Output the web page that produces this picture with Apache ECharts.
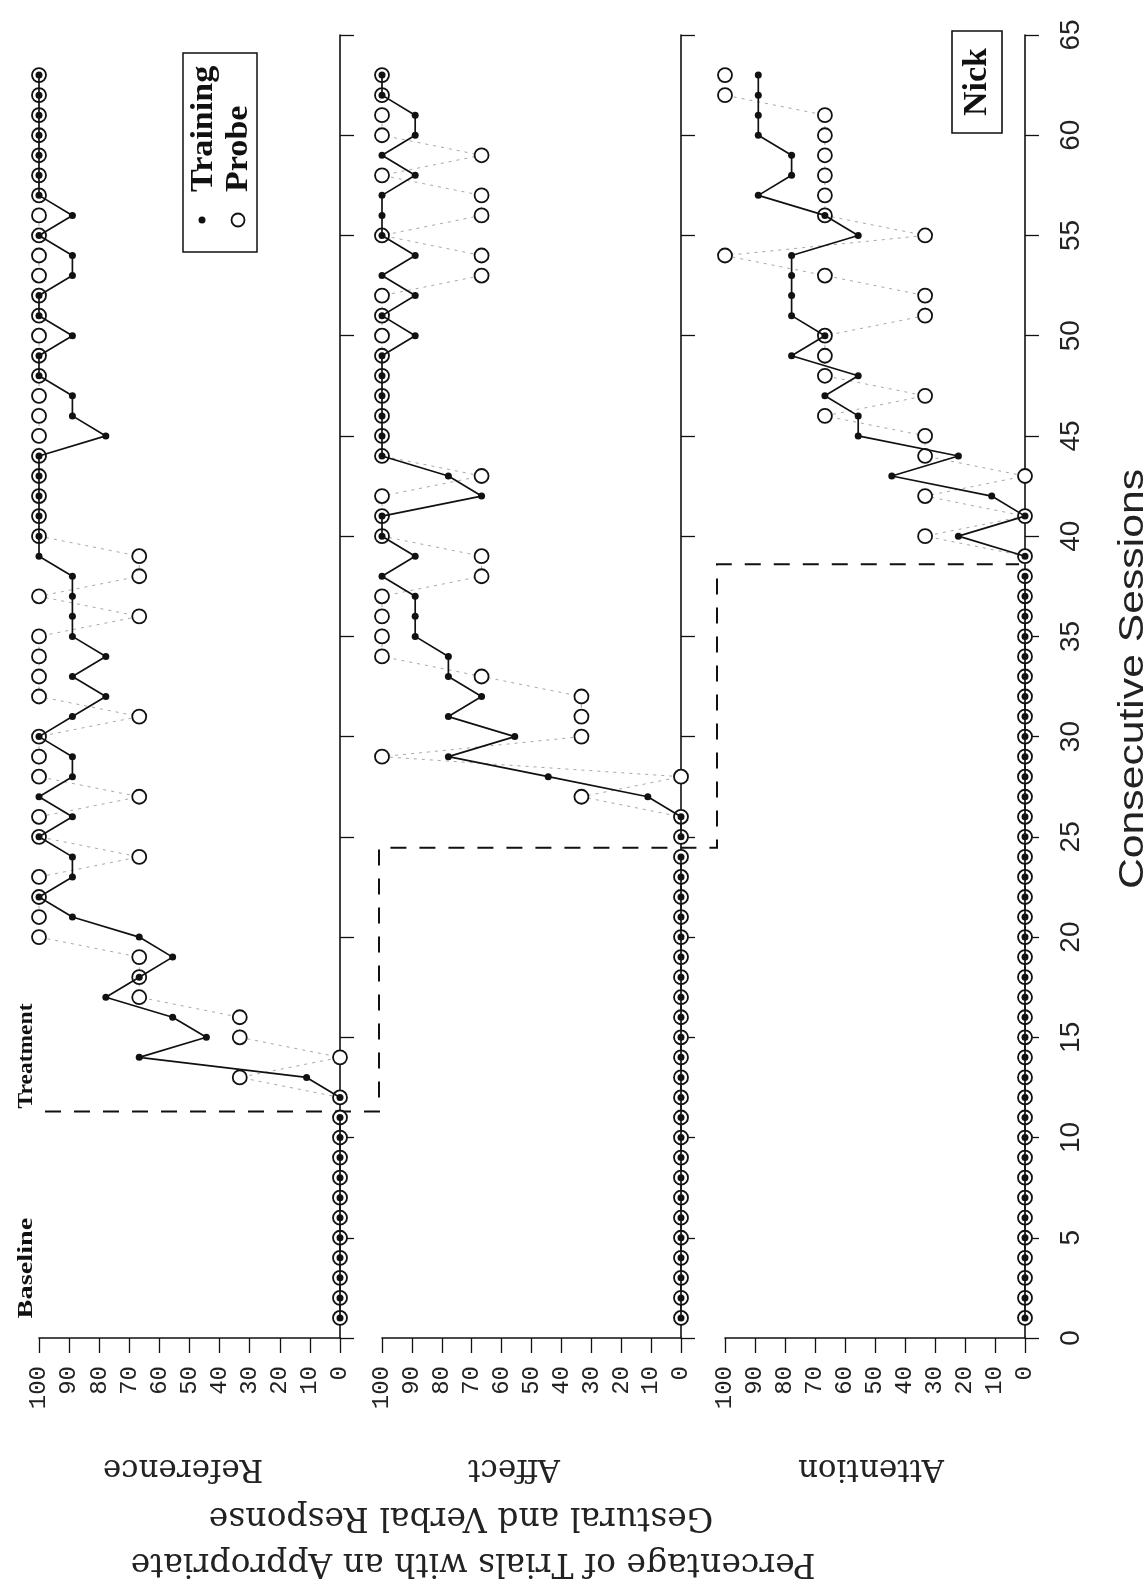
<!DOCTYPE html>
<html>
<head>
<meta charset="utf-8">
<script src="https://cdn.jsdelivr.net/npm/echarts@6/dist/echarts.min.js"></script>
<style>
  html, body { margin: 0; padding: 0; background: #fff; }
  #chart { width: 1148px; height: 1595px; }
</style>
</head>
<body>
<div id="chart"></div>
<script>
// consecutive sessions 1..63
var sessions = [1,2,3,4,5,6,7,8,9,10,11,12,13,14,15,16,17,18,19,20,21,22,23,24,25,26,27,28,29,30,
  31,32,33,34,35,36,37,38,39,40,41,42,43,44,45,46,47,48,49,50,51,52,53,54,55,56,57,58,59,60,61,62,63];

// Reference (baseline ends after session 11)
var refTraining = [0,0,0,0,0,0,0,0,0,0,0,
  0,11.1,66.7,44.4,55.6,77.8,66.7,55.6,66.7,88.9,100,88.9,88.9,100,88.9,100,88.9,88.9,100,
  88.9,77.8,88.9,77.8,88.9,88.9,88.9,88.9,100,100,100,100,100,100,77.8,88.9,88.9,100,100,88.9,
  100,100,88.9,88.9,100,88.9,100,100,100,100,100,100,100];
var refProbe = [0,0,0,0,0,0,0,0,0,0,0,
  0,33.3,0,33.3,33.3,66.7,66.7,66.7,100,100,100,100,66.7,100,100,66.7,100,100,100,
  66.7,100,100,100,100,66.7,100,66.7,66.7,100,100,100,100,100,100,100,100,100,100,100,
  100,100,100,100,100,100,100,100,100,100,100,100,100];

// Affect (baseline ends after session 24)
var affTraining = [0,0,0,0,0,0,0,0,0,0,0,0,0,0,0,0,0,0,0,0,0,0,0,0,
  0,0,11.1,44.4,77.8,55.6,77.8,66.7,77.8,77.8,88.9,88.9,88.9,100,88.9,100,100,66.7,77.8,100,
  100,100,100,100,100,88.9,100,88.9,100,88.9,100,100,100,88.9,100,88.9,88.9,100,100];
var affProbe = [0,0,0,0,0,0,0,0,0,0,0,0,0,0,0,0,0,0,0,0,0,0,0,0,
  0,0,33.3,0,100,33.3,33.3,33.3,66.7,100,100,100,100,66.7,66.7,100,100,100,66.7,100,
  100,100,100,100,100,100,100,100,66.7,66.7,100,66.7,66.7,100,66.7,100,100,100,100];

// Attention (baseline ends after session 38)
var attTraining = [0,0,0,0,0,0,0,0,0,0,0,0,0,0,0,0,0,0,0,0,0,0,0,0,0,0,0,0,0,0,0,0,0,0,0,0,0,0,
  0,22.2,0,11.1,44.4,22.2,55.6,55.6,66.7,55.6,77.8,66.7,77.8,77.8,77.8,77.8,55.6,66.7,88.9,
  77.8,77.8,88.9,88.9,88.9,88.9];
var attProbe = [0,0,0,0,0,0,0,0,0,0,0,0,0,0,0,0,0,0,0,0,0,0,0,0,0,0,0,0,0,0,0,0,0,0,0,0,0,0,
  0,33.3,0,33.3,0,33.3,33.3,66.7,33.3,66.7,66.7,66.7,33.3,33.3,66.7,100,33.3,66.7,66.7,
  66.7,66.7,66.7,66.7,100,100];

var panelNames = ['Reference', 'Affect', 'Attention'];
var baselineEnd = [11, 24, 38];
var phaseChange = [11.3, 24.45, 38.6];
var pctTicks = [0, 100, 10];
var sessionTicks = [0, 65, 5];

var ink = '#111';
var chart = echarts.init(document.getElementById('chart'));

var grids = [
  { left: 39, top: 35, width: 301, height: 1303 },
  { left: 382, top: 35, width: 299, height: 1303 },
  { left: 725, top: 35, width: 300, height: 1303 }
];

function pts(vals, from, to) {
  var out = [];
  for (var i = from; i <= to; i++) out.push([vals[i - 1], sessions[i - 1]]);
  return out;
}

var xAxes = [], yAxes = [], series = [];
var panels = [[refTraining, refProbe], [affTraining, affProbe], [attTraining, attProbe]];

panels.forEach(function (p, k) {
  xAxes.push({
    type: 'value', gridIndex: k, min: pctTicks[0], max: pctTicks[1], interval: pctTicks[2],
    inverse: true, position: 'bottom',
    axisLine: { onZero: false, lineStyle: { color: ink, width: 1.6 } },
    axisTick: { length: 15, lineStyle: { color: ink, width: 1.3 } },
    axisLabel: { rotate: 90, margin: 28, color: '#222', fontSize: 24, fontFamily: '"Liberation Mono", monospace' },
    splitLine: { show: false }
  });
  yAxes.push({
    type: 'value', gridIndex: k, min: sessionTicks[0], max: sessionTicks[1], interval: sessionTicks[2],
    position: 'right',
    axisLine: { onZero: false, lineStyle: { color: ink, width: 1.6 } },
    axisTick: { length: 14, lineStyle: { color: ink, width: 1.3 } },
    axisLabel: { show: k === 2, rotate: 90, margin: 32, color: '#222', fontSize: 28, fontFamily: '"Liberation Sans", sans-serif' },
    splitLine: { show: false }
  });
  var b = baselineEnd[k];
  var probeStyle = {
    type: 'line', xAxisIndex: k, yAxisIndex: k, symbol: 'circle', symbolSize: 14,
    itemStyle: { color: '#fff', borderColor: ink, borderWidth: 1.8 },
    lineStyle: { color: '#a8a8a8', width: 1, type: [3, 5] }, z: 3
  };
  var trainStyle = {
    type: 'line', xAxisIndex: k, yAxisIndex: k, symbol: 'circle', symbolSize: 7,
    itemStyle: { color: ink },
    lineStyle: { color: ink, width: 1.7 }, z: 4
  };
  series.push(Object.assign({ name: 'Probe', data: pts(p[1], 1, b) }, probeStyle));
  series.push(Object.assign({ name: 'Probe', data: pts(p[1], b + 1, sessions.length) }, probeStyle));
  series.push(Object.assign({ name: 'Training', data: pts(p[0], 1, b) }, trainStyle));
  series.push(Object.assign({ name: 'Training', data: pts(p[0], b + 1, sessions.length) }, trainStyle));
});

chart.setOption({
  animation: false,
  backgroundColor: '#fff',
  grid: grids,
  xAxis: xAxes,
  yAxis: yAxes,
  series: series
});

// phase-change staircase, placed through the axes' own scales
function px(k, p, s) { return chart.convertToPixel({ gridIndex: k }, [p, s]); }
var yA = px(0, 0, phaseChange[0])[1];
var yB = px(1, 0, phaseChange[1])[1];
var yC = px(2, 0, phaseChange[2])[1];
var xStart = px(0, 98, 0)[0];
var xCorner1 = px(1, 100, 0)[0] - 3;
var xCorner2 = px(2, 100, 0)[0] - 8;
var xEnd = px(2, 0, 0)[0] - 6;

var serif = '"Liberation Serif", serif';
var slab = '"DejaVu Serif", serif';
var graphic = [
  { type: 'polyline', z: 2, shape: { points: [[xStart, yA], [xCorner1, yA], [xCorner1, yB], [xCorner2, yB], [xCorner2, yC], [xEnd, yC]] },
    style: { fill: 'none', stroke: ink, lineWidth: 2, lineDash: [16, 13] } },
  { type: 'rect', shape: { x: 183, y: 53, width: 74, height: 199 }, style: { fill: 'none', stroke: ink, lineWidth: 1.5 } },
  { type: 'circle', shape: { cx: 202, cy: 220, r: 3.5 }, style: { fill: ink } },
  { type: 'circle', shape: { cx: 238, cy: 220, r: 6.5 }, style: { fill: 'none', stroke: ink, lineWidth: 1.8 } },
  { type: 'text', x: 204, y: 192, rotation: Math.PI / 2, scaleX: 1.1, style: { text: 'Training', font: 'bold 31px ' + serif, fill: ink, textAlign: 'left', textVerticalAlign: 'middle' } },
  { type: 'text', x: 239, y: 192, rotation: Math.PI / 2, scaleX: 1.1, style: { text: 'Probe', font: 'bold 31px ' + serif, fill: ink, textAlign: 'left', textVerticalAlign: 'middle' } },
  { type: 'rect', shape: { x: 952, y: 31, width: 50, height: 102 }, style: { fill: 'none', stroke: ink, lineWidth: 1.6 } },
  { type: 'text', x: 977, y: 82, rotation: Math.PI / 2, style: { text: 'Nick', font: 'bold 34px ' + serif, fill: ink, textAlign: 'center', textVerticalAlign: 'middle' } },
  { type: 'text', x: 27, y: 1268, rotation: Math.PI / 2, scaleX: 1.35, style: { text: 'Baseline', font: 'bold 21px ' + serif, fill: ink, textAlign: 'center', textVerticalAlign: 'middle' } },
  { type: 'text', x: 27, y: 1056, rotation: Math.PI / 2, scaleX: 1.12, style: { text: 'Treatment', font: 'bold 21px ' + serif, fill: ink, textAlign: 'center', textVerticalAlign: 'middle' } },
  { type: 'text', x: 1133, y: 679, rotation: Math.PI / 2, scaleX: 1.22, style: { text: 'Consecutive Sessions', font: '35px "Liberation Sans", sans-serif', fill: '#222', textAlign: 'center', textVerticalAlign: 'middle' } },
  { type: 'text', x: 183, y: 1468, rotation: Math.PI, style: { text: panelNames[0], font: '31px ' + slab, fill: '#222', textAlign: 'center', textVerticalAlign: 'middle' } },
  { type: 'text', x: 514, y: 1468, rotation: Math.PI, style: { text: panelNames[1], font: '31px ' + slab, fill: '#222', textAlign: 'center', textVerticalAlign: 'middle' } },
  { type: 'text', x: 871, y: 1468, rotation: Math.PI, style: { text: panelNames[2], font: '31px ' + slab, fill: '#222', textAlign: 'center', textVerticalAlign: 'middle' } },
  { type: 'text', x: 461, y: 1517, rotation: Math.PI, style: { text: 'Gestural and Verbal Response', font: '33px ' + slab, fill: '#222', textAlign: 'center', textVerticalAlign: 'middle' } },
  { type: 'text', x: 473, y: 1563, rotation: Math.PI, style: { text: 'Percentage of Trials with an Appropriate', font: '33px ' + slab, fill: '#222', textAlign: 'center', textVerticalAlign: 'middle' } }
];

chart.setOption({ graphic: graphic });
</script>
</body>
</html>
